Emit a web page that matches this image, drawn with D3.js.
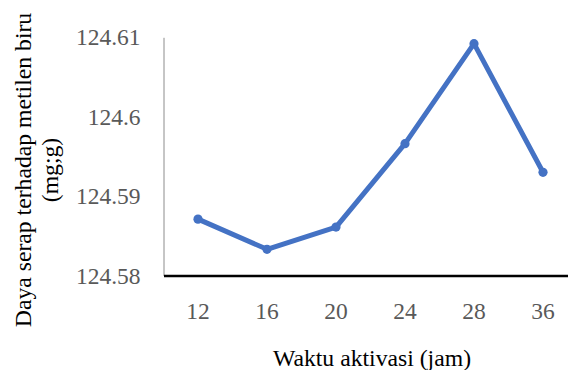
<!DOCTYPE html>
<html>
<head>
<meta charset="utf-8">
<script src="https://cdn.jsdelivr.net/npm/d3@7"></script>
<style>
  html, body { margin: 0; padding: 0; background: #fff; }
  svg { display: block; }
  text { font-family: "Liberation Serif", "Times New Roman", serif; }
</style>
</head>
<body>
<svg id="chart" width="568" height="370"></svg>
<script>
// Activation time (hours) on the x axis
const categories = ["12", "16", "20", "24", "28", "36"];
// Methylene blue adsorption capacity (mg/g)
const values = [124.5871, 124.5833, 124.5861, 124.5966, 124.6092, 124.5930];
// Y axis tick values
const yTicks = [124.58, 124.59, 124.60, 124.61];
const yTickLabels = ["124.58", "124.59", "124.6", "124.61"];

const svg = d3.select("#chart");
const plotLeft = 163.5, plotTop = 37.3, plotBottom = 275.5, bandRight = 577.5;

const x = d3.scaleBand().domain(categories).range([plotLeft, bandRight]);
const y = d3.scaleLinear().domain([124.58, 124.61]).range([plotBottom, plotTop]);

// Y axis: thin grey line with labels, no tick marks
const yAxis = svg.append("g")
  .attr("transform", `translate(${plotLeft},0)`)
  .call(d3.axisLeft(y).tickValues(yTicks)
    .tickFormat((d, i) => yTickLabels[i]).tickSize(0).tickPadding(23));
yAxis.select(".domain").attr("stroke", "#8c8c8c").attr("stroke-width", 1);
yAxis.selectAll("text")
  .attr("font-family", "Liberation Serif, Times New Roman, serif")
  .attr("font-size", 23.5).attr("fill", "#595959");

// X axis: heavy black baseline with category labels
const xAxis = svg.append("g")
  .attr("transform", `translate(0,${plotBottom})`)
  .call(d3.axisBottom(x).tickSize(0).tickPadding(27));
xAxis.select(".domain").attr("stroke", "#000").attr("stroke-width", 2.7);
xAxis.selectAll("text")
  .attr("font-family", "Liberation Serif, Times New Roman, serif")
  .attr("font-size", 23.5).attr("fill", "#595959");

const cx = d => x(d) + x.bandwidth() / 2;
const pts = categories.map((c, i) => [cx(c), y(values[i])]);

svg.append("path")
  .datum(pts)
  .attr("d", d3.line())
  .attr("fill", "none")
  .attr("stroke", "#4472C4")
  .attr("stroke-width", 5)
  .attr("stroke-linejoin", "round");

svg.selectAll("circle.pt")
  .data(pts)
  .join("circle")
  .attr("class", "pt")
  .attr("cx", d => d[0]).attr("cy", d => d[1])
  .attr("r", 4.6)
  .attr("fill", "#4472C4");

// Axis titles
svg.append("text")
  .attr("x", 372).attr("y", 366)
  .attr("text-anchor", "middle")
  .attr("font-size", 23.7).attr("fill", "#000")
  .text("Waktu aktivasi (jam)");

const yt = svg.append("text")
  .attr("transform", "translate(31,170) rotate(-90)")
  .attr("text-anchor", "middle")
  .attr("font-size", 23.7).attr("fill", "#000");
yt.append("tspan").attr("x", 0).attr("dy", 0).text("Daya serap terhadap metilen biru");
yt.append("tspan").attr("x", 0).attr("dy", 27).text("(mg;g)");
</script>
</body>
</html>
